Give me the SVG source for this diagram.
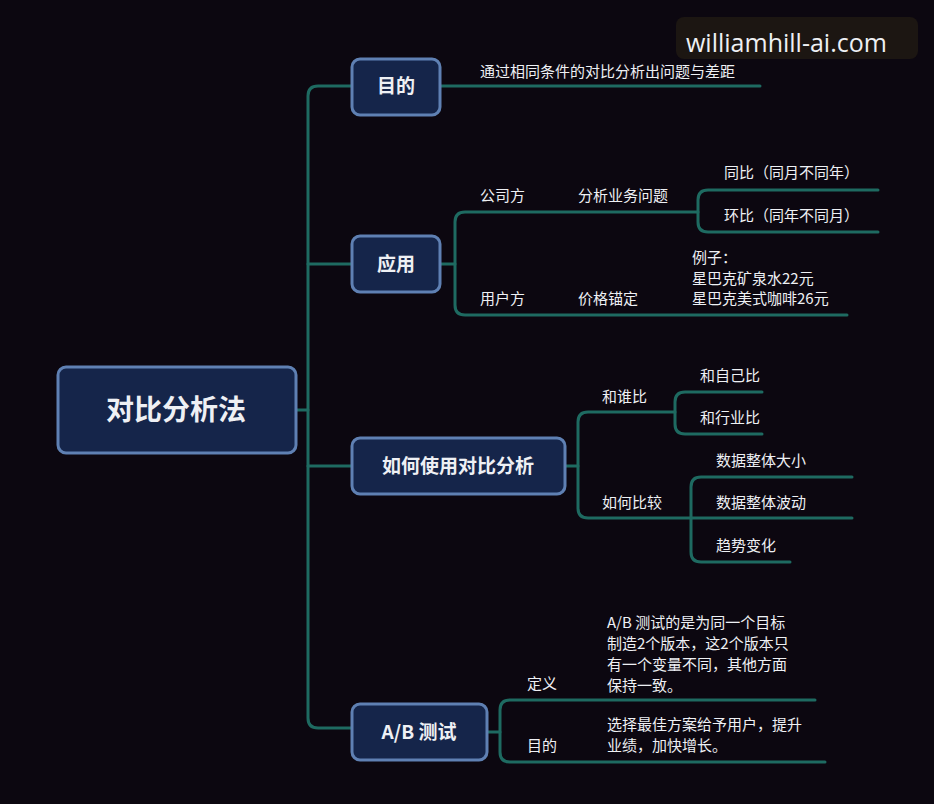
<svg xmlns="http://www.w3.org/2000/svg" width="934" height="804" viewBox="0 0 934 804">
<style>
.n{fill:#15254a;stroke:#5f80b3;stroke-width:3}
.l{fill:none;stroke:#1e6a61;stroke-width:3;stroke-linecap:round;stroke-linejoin:round}
text{font-family:"Noto Sans CJK SC","Noto Sans",sans-serif;fill:#eef0f4}
.t{font-size:15px}
.nt{font-size:19px;font-weight:bold;text-anchor:middle}
</style>
<rect width="934" height="804" fill="#0c0710"/>
<g id="connectors">
<path class="l" d="M296 410H308"/>
<path class="l" d="M352 86H318Q308 86 308 96V718Q308 728 318 728H352"/>
<path class="l" d="M308 264H352M308 466H352"/>
<path class="l" d="M440 86H760"/>
<path class="l" d="M440 264H455"/>
<path class="l" d="M698 212H465Q455 212 455 222V305Q455 315 465 315H847"/>
<path class="l" d="M878 190H708Q698 190 698 200V222Q698 232 708 232H878"/>
<path class="l" d="M565 466H578"/>
<path class="l" d="M675 412H588Q578 412 578 422V508Q578 518 588 518H852"/>
<path class="l" d="M762 392H685Q675 392 675 402V424Q675 434 685 434H762"/>
<path class="l" d="M852 477H701Q691 477 691 487V552Q691 562 701 562H790"/>
<path class="l" d="M487 732H500"/>
<path class="l" d="M815 700H510Q500 700 500 710V752Q500 762 510 762H825"/>
</g>
<g id="root"><rect class="n" x="58" y="367" width="238" height="86" rx="8"/><text x="176" y="420" style="font-size:28px;font-weight:bold;text-anchor:middle">对比分析法</text></g>
<g id="n1"><rect class="n" x="352" y="59" width="88" height="56" rx="8"/><text class="nt" x="396" y="93">目的</text></g>
<g id="n1t"><text class="t" x="480" y="77">通过相同条件的对比分析出问题与差距</text></g>
<g id="n2"><rect class="n" x="352" y="236" width="88" height="56" rx="8"/><text class="nt" x="396" y="271">应用</text></g>
<g id="n2a"><text class="t" x="480" y="201">公司方</text><text class="t" x="578" y="201">分析业务问题</text><text class="t" x="724" y="178">同比（同月不同年）</text><text class="t" x="724" y="221">环比（同年不同月）</text></g>
<g id="n2b"><text class="t" x="480" y="304">用户方</text><text class="t" x="578" y="304">价格锚定</text><text class="t" x="692" y="263">例子：</text><text class="t" x="692" y="284">星巴克矿泉水22元</text><text class="t" x="692" y="304">星巴克美式咖啡26元</text></g>
<g id="n3"><rect class="n" x="352" y="438" width="213" height="56" rx="8"/><text class="nt" x="458" y="473">如何使用对比分析</text></g>
<g id="n3a"><text class="t" x="602" y="402">和谁比</text><text class="t" x="700" y="381">和自己比</text><text class="t" x="700" y="423">和行业比</text></g>
<g id="n3b"><text class="t" x="602" y="508">如何比较</text><text class="t" x="716" y="466">数据整体大小</text><text class="t" x="716" y="508">数据整体波动</text><text class="t" x="716" y="551">趋势变化</text></g>
<g id="n4"><rect class="n" x="352" y="704" width="135" height="56" rx="8"/><text class="nt" x="419" y="739">A/B 测试</text></g>
<g id="n4a"><text class="t" x="527" y="689">定义</text><text class="t" x="607" y="628">A/B 测试的是为同一个目标</text><text class="t" x="607" y="649">制造2个版本，这2个版本只</text><text class="t" x="607" y="670">有一个变量不同，其他方面</text><text class="t" x="607" y="691">保持一致。</text></g>
<g id="n4b"><text class="t" x="527" y="751">目的</text><text class="t" x="607" y="730">选择最佳方案给予用户，提升</text><text class="t" x="607" y="751">业绩，加快增长。</text></g>
<g id="wm"><rect x="676" y="17" width="242" height="42" rx="8" fill="#1c1612"/><text x="686" y="52" style="font-size:25px;font-family:'Open Sans','Noto Sans',sans-serif">williamhill-ai.com</text></g>
</svg>
